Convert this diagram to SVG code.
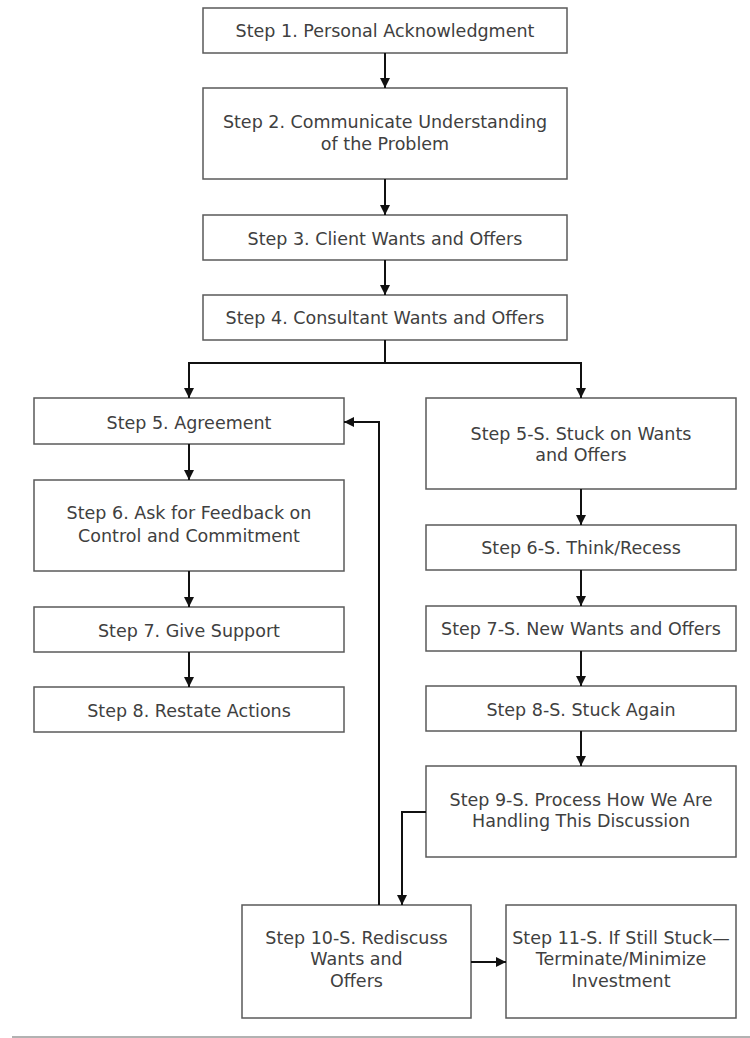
<svg xmlns="http://www.w3.org/2000/svg" width="750" height="1038" viewBox="0 0 750 1038">
<style>
.box{fill:#fff;stroke:#5a5a5a;stroke-width:1.5}
.lbl{font-family:"DejaVu Sans","Liberation Sans",sans-serif;font-size:17.5px;fill:#404040;text-anchor:middle}
.con{fill:none;stroke:#111;stroke-width:2}
</style>
<defs>
<marker id="ah" viewBox="0 0 10 10" refX="10" refY="5" markerWidth="10" markerHeight="10" markerUnits="userSpaceOnUse" orient="auto">
<path d="M0,0 L10,5 L0,10 z" fill="#111"/>
</marker>
</defs>
<rect width="750" height="1038" fill="#fff"/>
<g id="s1"><rect class="box" x="203" y="8" width="364" height="45"/><text class="lbl" x="385" y="37">Step 1. Personal Acknowledgment</text></g>
<g id="s2"><rect class="box" x="203" y="88" width="364" height="91"/><text class="lbl" x="385" y="128">Step 2. Communicate Understanding</text><text class="lbl" x="385" y="150">of the Problem</text></g>
<g id="s3"><rect class="box" x="203" y="215" width="364" height="45"/><text class="lbl" x="385" y="245">Step 3. Client Wants and Offers</text></g>
<g id="s4"><rect class="box" x="203" y="295" width="364" height="45"/><text class="lbl" x="385" y="324">Step 4. Consultant Wants and Offers</text></g>
<g id="s5"><rect class="box" x="34" y="398" width="310" height="46"/><text class="lbl" x="189" y="429">Step 5. Agreement</text></g>
<g id="s6"><rect class="box" x="34" y="480" width="310" height="91"/><text class="lbl" x="189" y="519">Step 6. Ask for Feedback on</text><text class="lbl" x="189" y="542">Control and Commitment</text></g>
<g id="s7"><rect class="box" x="34" y="607" width="310" height="45"/><text class="lbl" x="189" y="637">Step 7. Give Support</text></g>
<g id="s8"><rect class="box" x="34" y="687" width="310" height="45"/><text class="lbl" x="189" y="717">Step 8. Restate Actions</text></g>
<g id="s5s"><rect class="box" x="426" y="398" width="310" height="91"/><text class="lbl" x="581" y="440">Step 5-S. Stuck on Wants</text><text class="lbl" x="581" y="461">and Offers</text></g>
<g id="s6s"><rect class="box" x="426" y="525" width="310" height="45"/><text class="lbl" x="581" y="554">Step 6-S. Think/Recess</text></g>
<g id="s7s"><rect class="box" x="426" y="606" width="310" height="45"/><text class="lbl" x="581" y="635">Step 7-S. New Wants and Offers</text></g>
<g id="s8s"><rect class="box" x="426" y="686" width="310" height="45"/><text class="lbl" x="581" y="716">Step 8-S. Stuck Again</text></g>
<g id="s9s"><rect class="box" x="426" y="766" width="310" height="91"/><text class="lbl" x="581" y="806">Step 9-S. Process How We Are</text><text class="lbl" x="581" y="827">Handling This Discussion</text></g>
<g id="s10s"><rect class="box" x="242" y="905" width="229" height="113"/><text class="lbl" x="356.5" y="944">Step 10-S. Rediscuss</text><text class="lbl" x="356.5" y="965">Wants and</text><text class="lbl" x="356.5" y="987">Offers</text></g>
<g id="s11s"><rect class="box" x="506" y="905" width="230" height="113"/><text class="lbl" x="621" y="944">Step 11-S. If Still Stuck—</text><text class="lbl" x="621" y="965">Terminate/Minimize</text><text class="lbl" x="621" y="987">Investment</text></g>
<g id="connectors">
<path class="con" d="M385,53 V88" marker-end="url(#ah)"/>
<path class="con" d="M385,179 V215" marker-end="url(#ah)"/>
<path class="con" d="M385,260 V295" marker-end="url(#ah)"/>
<path class="con" d="M385,340 V363"/>
<path class="con" d="M385,363 H189 V398" marker-end="url(#ah)"/>
<path class="con" d="M385,363 H581 V398" marker-end="url(#ah)"/>
<path class="con" d="M189,444 V480" marker-end="url(#ah)"/>
<path class="con" d="M189,571 V607" marker-end="url(#ah)"/>
<path class="con" d="M189,652 V687" marker-end="url(#ah)"/>
<path class="con" d="M581,489 V525" marker-end="url(#ah)"/>
<path class="con" d="M581,570 V606" marker-end="url(#ah)"/>
<path class="con" d="M581,651 V686" marker-end="url(#ah)"/>
<path class="con" d="M581,731 V766" marker-end="url(#ah)"/>
<path class="con" d="M426,812 H402 V905" marker-end="url(#ah)"/>
<path class="con" d="M379,905 V422 H344" marker-end="url(#ah)"/>
<path class="con" d="M471,962 H506" marker-end="url(#ah)"/>
</g>
<line x1="12" y1="1037" x2="750" y2="1037" stroke="#999" stroke-width="1.5"/>
</svg>
